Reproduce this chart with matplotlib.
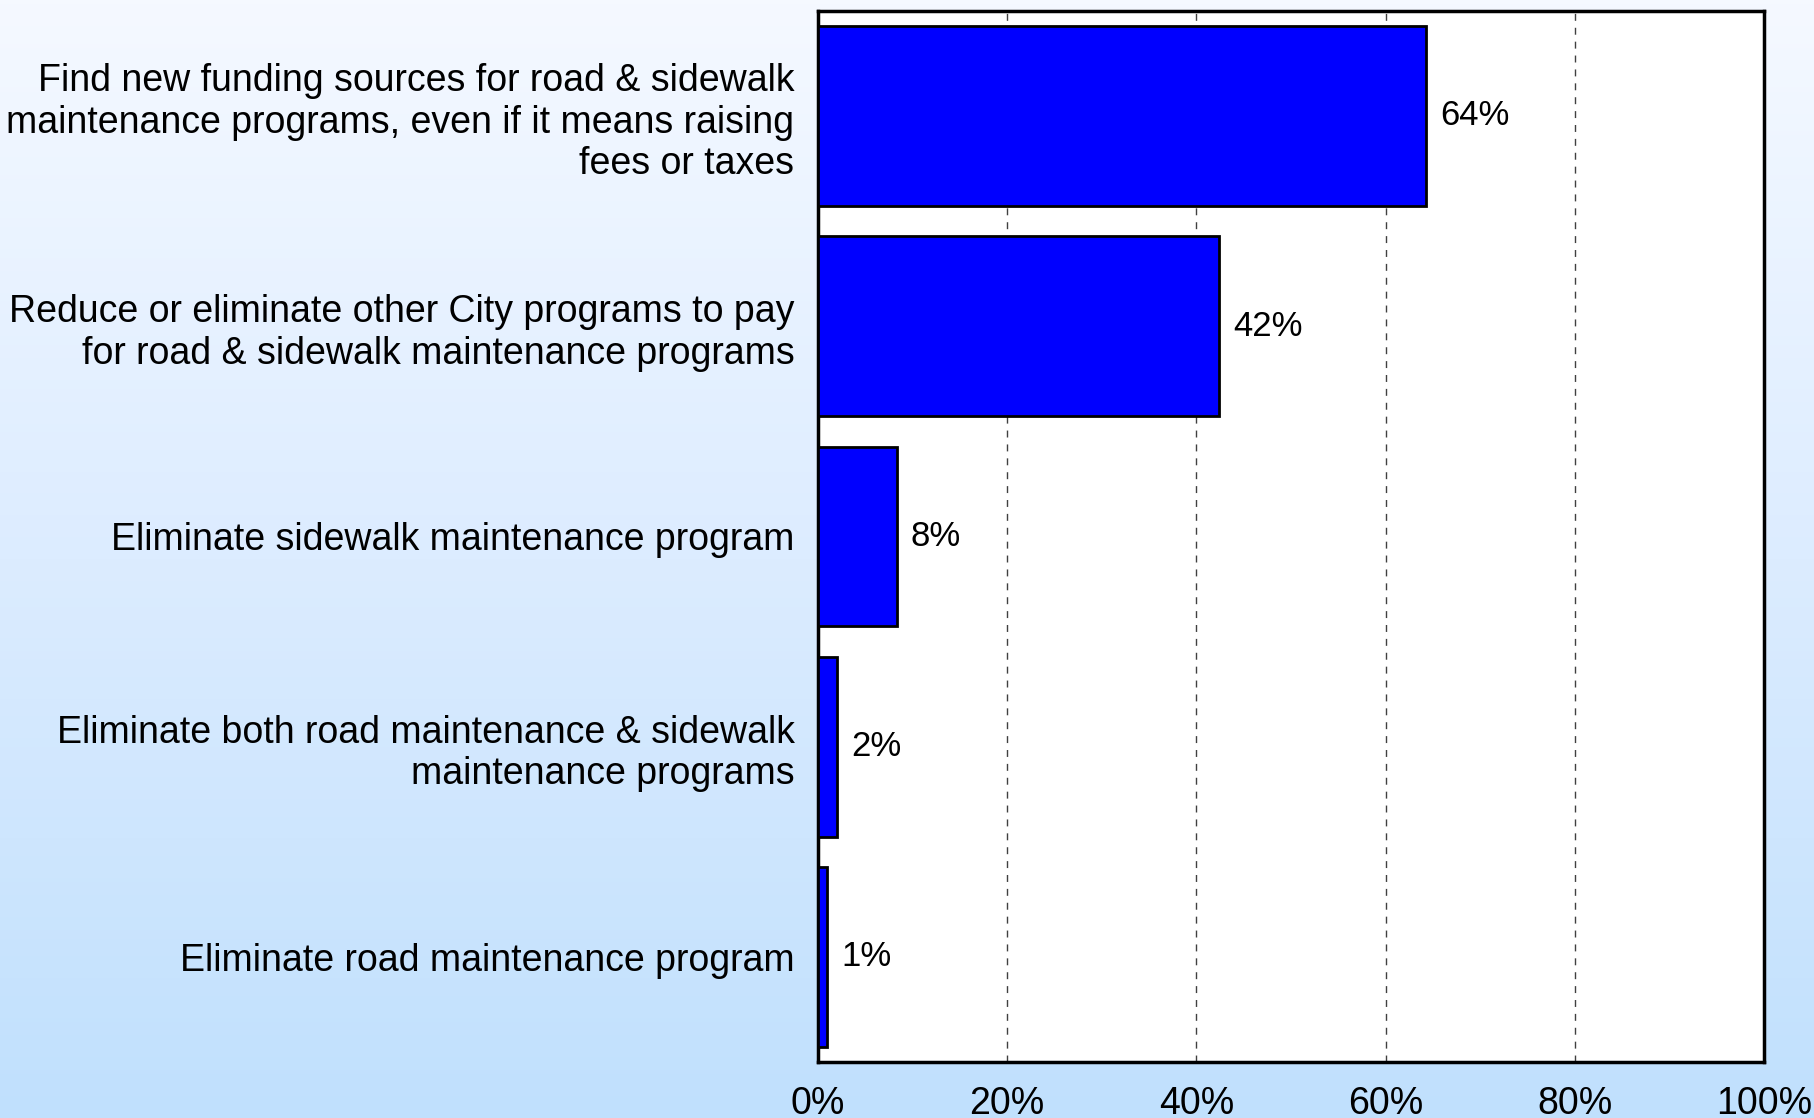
import numpy as np
import matplotlib.pyplot as plt
from matplotlib.colors import LinearSegmentedColormap

# Antworten (von oben nach unten)
categories = [
    "Find new funding sources for road & sidewalk\nmaintenance programs, even if it means raising\nfees or taxes",
    "Reduce or eliminate other City programs to pay\nfor road & sidewalk maintenance programs",
    "Eliminate sidewalk maintenance program",
    "Eliminate both road maintenance & sidewalk\nmaintenance programs",
    "Eliminate road maintenance program",
]
values = [64.3, 42.4, 8.3, 2.0, 1.0]
xticks = [0, 20, 40, 60, 80, 100]

plt.rcParams['font.family'] = ['Liberation Sans', 'DejaVu Sans']

fig = plt.figure(figsize=(18.15, 11.18), dpi=100)

# Hintergrund mit Farbverlauf
bg = fig.add_axes([0, 0, 1, 1], zorder=-10)
cmap = LinearSegmentedColormap.from_list("bg", ["#f5f9ff", "#dcecff", "#c0e0fd"])
bg.imshow(np.linspace(0, 1, 256).reshape(-1, 1), aspect="auto", cmap=cmap,
          extent=[0, 1, 0, 1])
bg.set_axis_off()

ax = fig.add_axes([0.4507, 0.0500, 0.5212, 0.9403])
ax.set_facecolor("white")
y = np.arange(len(categories))
ax.barh(y, values, height=0.855, color="#0000ff", edgecolor="black",
        linewidth=2, zorder=3)
for yi, v in zip(y, values):
    ax.text(v + 1.5, yi, "%.0f%%" % v, va="center", ha="left", fontsize=25)

ax.set_ylim(len(categories) - 0.5, -0.5)
ax.set_xlim(0, 100)
ax.set_yticks(y)
ax.set_yticklabels(categories, fontsize=27, linespacing=1.2)
ax.set_xticks(xticks)
ax.set_xticklabels(["%d%%" % t for t in xticks], fontsize=27)
ax.tick_params(axis="both", length=0)
ax.tick_params(axis="y", pad=17)
ax.tick_params(axis="x", pad=17)
ax.grid(axis="x", color="#404040", linestyle=(0, (5, 5)), linewidth=1, zorder=0)
for s in ax.spines.values():
    s.set_linewidth(2.5)
    s.set_color("black")

fig.savefig("out.png", dpi=100)
